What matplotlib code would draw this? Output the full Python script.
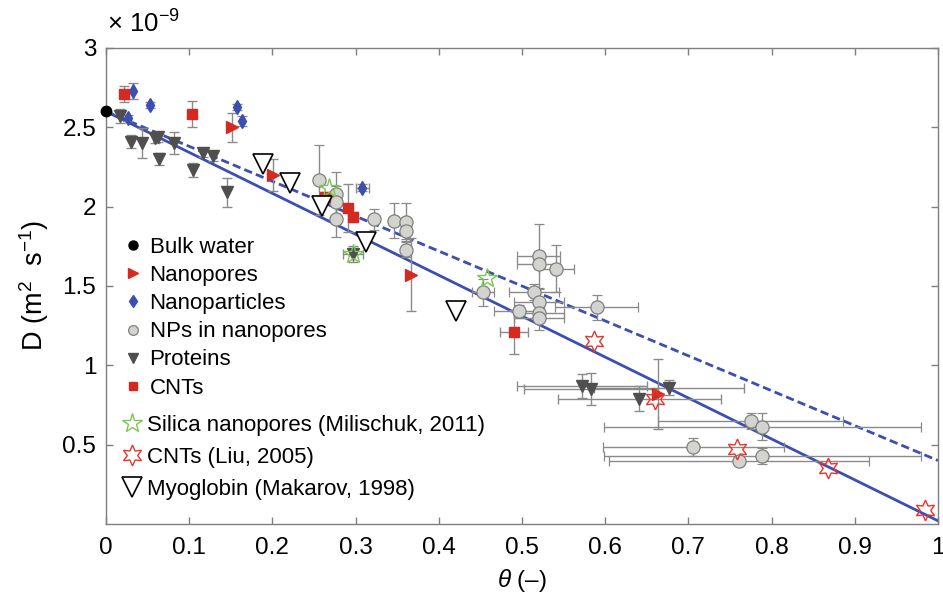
import matplotlib
matplotlib.use("Agg")
import matplotlib.pyplot as plt
from matplotlib.lines import Line2D

plt.rcParams['font.family'] = ['Liberation Sans', 'DejaVu Sans']
plt.rcParams['mathtext.fontset'] = 'custom'
plt.rcParams['mathtext.rm'] = 'Liberation Sans'
plt.rcParams['mathtext.it'] = 'Liberation Sans:italic'

# ---------------- data (D in units of 1e-9 m^2/s) ----------------
bulk_x = [0.0]
bulk_y = [2.60]

pores_x = [0.151, 0.201, 0.367, 0.664]
pores_y = [2.50, 2.20, 1.57, 0.82]
pores_yerr = [0.09, 0.10, 0.23, 0.22]

parts_x = [0.032, 0.053, 0.027, 0.158, 0.164, 0.308]
parts_y = [2.73, 2.64, 2.56, 2.63, 2.54, 2.12]
parts_yerr = [0.05, 0.02, 0.02, 0.02, 0.03, 0.02]
parts_xerr = [0, 0, 0, 0, 0, 0.008]

npp_x = [0.256, 0.277, 0.277, 0.277, 0.322, 0.346, 0.361, 0.361, 0.361,
         0.453, 0.520, 0.520, 0.541, 0.514, 0.520, 0.496, 0.520, 0.520,
         0.590, 0.775, 0.789, 0.706, 0.761, 0.789]
npp_y = [2.17, 2.08, 2.03, 1.92, 1.92, 1.91, 1.905, 1.845, 1.73,
         1.46, 1.69, 1.64, 1.61, 1.46, 1.40, 1.34, 1.33, 1.30,
         1.365, 0.65, 0.614, 0.486, 0.40, 0.43]
npp_yerr = [0.22, 0.14, 0.10, 0.11, 0.065, 0.11, 0.12, 0.05, 0.05,
            0.085, 0.20, 0.03, 0.15, 0.05, 0.08, 0.04, 0.05, 0.08,
            0.08, 0.05, 0.085, 0.055, 0.03, 0.05]
npp_xerr = [0, 0, 0, 0, 0, 0, 0, 0, 0,
            0.013, 0.026, 0.026, 0.021, 0.03, 0.03, 0.03, 0.03, 0.03,
            0.05, 0.111, 0.19, 0.109, 0.156, 0.19]

prot_x = [0.017, 0.030, 0.043, 0.059, 0.063, 0.064, 0.082, 0.105, 0.117,
          0.129, 0.146, 0.297, 0.572, 0.583, 0.641, 0.677]
prot_y = [2.57, 2.41, 2.40, 2.43, 2.44, 2.30, 2.40, 2.23, 2.34,
          2.32, 2.09, 1.70, 0.87, 0.85, 0.79, 0.86]
prot_yerr = [0.045, 0.04, 0.095, 0.03, 0.03, 0.04, 0.07, 0.045, 0.03,
             0.03, 0.09, 0.05, 0.075, 0.10, 0.08, 0.05]
prot_xerr = [0, 0, 0, 0, 0, 0, 0, 0, 0,
             0, 0, 0.012, 0.078, 0.08, 0.098, 0.09]

cnt_x = [0.022, 0.103, 0.263, 0.291, 0.297, 0.490]
cnt_y = [2.71, 2.585, 2.06, 1.99, 1.935, 1.21]
cnt_yerr = [0.05, 0.08, 0.03, 0.15, 0.03, 0.14]
cnt_xerr = [0, 0, 0, 0, 0, 0.017]

silica_x = [0.268, 0.297, 0.458]
silica_y = [2.12, 1.70, 1.55]

liu_x = [0.586, 0.660, 0.758, 0.868, 0.984]
liu_y = [1.155, 0.79, 0.47, 0.355, 0.09]

myo_x = [0.189, 0.221, 0.260, 0.3125, 0.421]
myo_y = [2.27, 2.15, 2.005, 1.78, 1.34]

fit_x = [0.0, 1.0]
fit_solid_y = [2.60, 0.02]
fit_dashed_y = [2.60, 0.40]

x_ticks = [0, 0.1, 0.2, 0.3, 0.4, 0.5, 0.6, 0.7, 0.8, 0.9, 1]
x_ticklabels = ['0', '0.1', '0.2', '0.3', '0.4', '0.5', '0.6', '0.7', '0.8', '0.9', '1']
y_ticks = [0.5, 1, 1.5, 2, 2.5, 3]
y_ticklabels = ['0.5', '1', '1.5', '2', '2.5', '3']

# ---------------- styles ----------------
RED = '#d42a22'
BLUE = '#3b4fb3'
GREYF = '#d3d3cf'
GREYE = '#7f7f7f'
DARK = '#4f4f4f'
ERR = '#8a8a8a'
GREEN = '#7cc653'

fig = plt.figure(figsize=(9.43, 6.05), dpi=100)
ax = fig.add_axes([106/943, 1-524/605, (938-106)/943, (524-48)/605])

ax.plot(fit_x, fit_solid_y, color=BLUE, lw=2.0, zorder=2)
ax.plot(fit_x, fit_dashed_y, color=BLUE, lw=2.0, ls=(0, (3.0, 1.5)), zorder=2)

ekw = dict(ecolor=ERR, elinewidth=1.0, capsize=3.5, capthick=1.0, ls='none', zorder=3)

ax.errorbar(npp_x, npp_y, yerr=npp_yerr, xerr=npp_xerr, fmt='o', ms=9.5,
            mfc=GREYF, mec=GREYE, mew=0.9, **ekw)
ax.errorbar(prot_x, prot_y, yerr=prot_yerr, xerr=prot_xerr, fmt='v', ms=8,
            mfc=DARK, mec=DARK, **ekw)
ax.errorbar(pores_x, pores_y, yerr=pores_yerr, fmt='>', ms=8,
            mfc=RED, mec=RED, **ekw)
ax.errorbar(parts_x, parts_y, yerr=parts_yerr, xerr=parts_xerr, fmt='d', ms=7.5,
            mfc=BLUE, mec=BLUE, **ekw)
ax.errorbar(cnt_x, cnt_y, yerr=cnt_yerr, xerr=cnt_xerr, fmt='s', ms=6.5,
            mfc=RED, mec=RED, **ekw)

ax.plot(silica_x, silica_y, ls='none', marker='*', ms=15, mfc='none', mec=GREEN, mew=1.0, zorder=4)
ax.plot(liu_x, liu_y, ls='none', marker=(6, 1, 0), ms=15, mfc='none', mec='#e8352b', mew=1.0, zorder=4)
ax.plot(myo_x, myo_y, ls='none', marker='v', ms=14, mfc='white', mec='black', mew=1.2, zorder=4)
ax.plot(bulk_x, bulk_y, ls='none', marker='o', ms=7.5, mfc='black', mec='black', zorder=5, clip_on=False)

ax.set_xlim(0, 1)
ax.set_ylim(0, 3)
ax.set_xticks(x_ticks)
ax.set_xticklabels(x_ticklabels)
ax.set_yticks(y_ticks)
ax.set_yticklabels(y_ticklabels)
ax.tick_params(direction='in', length=5, width=1, color=GREYE, labelsize=17.5,
               top=True, right=True)
ax.tick_params(axis='x', pad=9)
ax.tick_params(axis='y', pad=7)
for s in ax.spines.values():
    s.set_color(GREYE)
    s.set_linewidth(1.0)

ax.set_xlabel(r'$\mathit{\theta}$ (–)', fontsize=17.5, labelpad=6)
ax.set_ylabel(r'D (m$^{2}$  s$^{-1}$)', fontsize=19.5, labelpad=8)
fig.text(107/943, 1-33/605, r'× 10$^{-9}$', fontsize=18.5, ha='left', va='baseline')

h1 = [Line2D([], [], ls='none', marker='o', ms=6.5, mfc='black', mec='black'),
      Line2D([], [], ls='none', marker='>', ms=6.5, mfc=RED, mec=RED),
      Line2D([], [], ls='none', marker='d', ms=6.5, mfc=BLUE, mec=BLUE),
      Line2D([], [], ls='none', marker='o', ms=7, mfc=GREYF, mec=GREYE, mew=0.9),
      Line2D([], [], ls='none', marker='v', ms=6.5, mfc=DARK, mec=DARK),
      Line2D([], [], ls='none', marker='s', ms=6, mfc=RED, mec=RED)]
l1 = ['Bulk water', 'Nanopores', 'Nanoparticles', 'NPs in nanopores', 'Proteins', 'CNTs']
h2 = [Line2D([], [], ls='none', marker='*', ms=15, mfc='none', mec=GREEN, mew=1.0),
      Line2D([], [], ls='none', marker=(6, 1, 0), ms=15, mfc='none', mec='#e8352b', mew=1.0),
      Line2D([], [], ls='none', marker='v', ms=14, mfc='white', mec='black', mew=1.2)]
l2 = ['Silica nanopores (Milischuk, 2011)', 'CNTs (Liu, 2005)', 'Myoglobin (Makarov, 1998)']

leg1 = fig.legend(h1, l1, loc='upper left', bbox_to_anchor=(124/943, 1-237/605),
                  frameon=False, fontsize=16, handlelength=0.8, handletextpad=0.35,
                  labelspacing=0.32, borderpad=0, borderaxespad=0)
leg2 = fig.legend(h2, l2, loc='upper left', bbox_to_anchor=(120/943, 1-415/605),
                  frameon=False, fontsize=16, handlelength=1.1, handletextpad=0.1,
                  labelspacing=0.5, borderpad=0, borderaxespad=0)

fig.savefig('out.png', dpi=100)
